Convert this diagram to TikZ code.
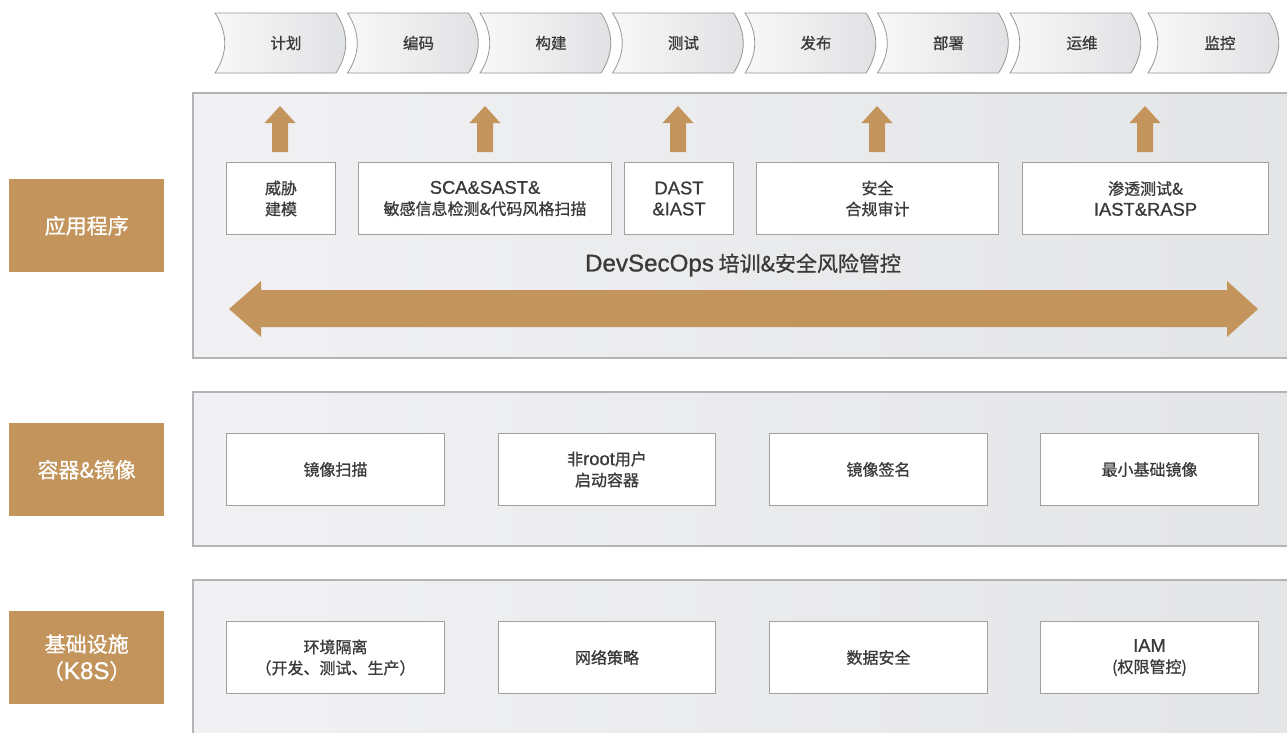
\documentclass[tikz,border=0pt]{standalone}
\usepackage{fontspec}
\setmainfont{Noto Sans CJK SC}[FakeBold=0.9]
\newfontfamily\lat[Scale=1.15,FakeBold=0.9]{Liberation Sans}
\definecolor{gold}{RGB}{195,149,92}
\definecolor{txt}{RGB}{58,58,58}
\definecolor{pborder}{RGB}{180,180,182}
\definecolor{bborder}{RGB}{160,160,162}
\definecolor{pleft}{RGB}{241,241,243}
\definecolor{pright}{RGB}{228,229,231}
\definecolor{cleft}{RGB}{248,248,248}
\definecolor{cright}{RGB}{224,225,227}
\definecolor{cborder}{RGB}{150,150,152}
\tikzset{
  panel/.style={draw=pborder, line width=1.2pt, left color=pleft, right color=pright},
  chevshape/.style={draw=cborder, line width=0.8pt, left color=cleft, right color=cright},
  chevtext/.style={text=txt, font=\fontsize{15.5}{18}\selectfont, inner sep=0pt},
  box/.style={draw=bborder, line width=1pt, fill=white, text=txt, inner sep=0pt, anchor=north west, align=center, minimum height=72, font=\fontsize{16}{21}\selectfont},
  sidelabel/.style={fill=gold, text=white, inner sep=0pt, anchor=north west, align=center, minimum width=155, minimum height=93, font=\fontsize{21}{27}\selectfont},
  uparrow/.style={fill=gold},
}
\newcommand\mychev[4]{%
  \draw[chevshape] (#1,13) -- ++(121,0) .. controls +(13,20) and +(13,-20) .. ++(0,60) -- ++(-121,0) .. controls +(13,-20) and +(13,20) .. ++(0,-60) -- cycle;
  \node[chevtext] (#3) at (#1+#4,43) {#2};
}
\begin{document}
\begin{tikzpicture}[x=1pt,y=-1pt]
\useasboundingbox (0,0) rectangle (1287,732);
\clip (0,0) rectangle (1287,732);
\fill[white] (0,0) rectangle (1287,732);

% chevrons
\mychev{215}{计划}{s1}{71}
\mychev{347.5}{编码}{s2}{71}
\mychev{480}{构建}{s3}{71}
\mychev{612.5}{测试}{s4}{71}
\mychev{745}{发布}{s5}{71}
\mychev{877.5}{部署}{s6}{71}
\mychev{1010}{运维}{s7}{72}
\mychev{1148}{监控}{s8}{72}

% panels
\draw[panel] (193,93) rectangle (1300,358);
\draw[panel] (193,392) rectangle (1300,546);
\draw[panel] (193,580) rectangle (1300,745);

% side labels
\node[sidelabel] (l1) at (9,179) {应用程序};
\node[sidelabel] (l2) at (9,423) {容器\&镜像};
\node[sidelabel] (l3) at (9,611) {基础设施\\（{\lat K8S}）};

% up arrows
\foreach \x in {280,485,678,877,1145}
  \fill[uparrow] (\x,106) -- (\x+15.5,123) -- (\x+8,123) -- (\x+8,152) -- (\x-8,152) -- (\x-8,123) -- (\x-15.5,123) -- cycle;

% row 1 boxes
\node[box, minimum width=109] (a1) at (226,162) {威胁\\建模};
\node[box, minimum width=253] (a2) at (358,162) {{\lat SCA\&SAST\&}\\敏感信息检测\&代码风格扫描};
\node[box, minimum width=109] (a3) at (624,162) {{\lat DAST}\\{\lat \&IAST}};
\node[box, minimum width=242] (a4) at (756,162) {安全\\合规审计};
\node[box, minimum width=246] (a5) at (1022,162) {渗透测试\&\\{\lat IAST\&RASP}};

% title
\node[text=txt, font=\fontsize{21}{24}\selectfont, inner sep=0pt] (t) at (743,265) {{\lat DevSecOps} 培训\&安全风险管控};

% double arrow
\fill[gold] (229,309) -- (261,281) -- (261,290) -- (1227,290) -- (1227,281) -- (1258,309) -- (1227,337) -- (1227,327) -- (261,327) -- (261,337) -- cycle;

% row 2 boxes
\node[box, minimum width=218] (c1) at (226,433) {镜像扫描};
\node[box, minimum width=217] (c2) at (498,433) {非{\lat root}用户\\启动容器};
\node[box, minimum width=218] (c3) at (769,433) {镜像签名};
\node[box, minimum width=218] (c4) at (1040,433) {最小基础镜像};

% row 3 boxes
\node[box, minimum width=218] (d1) at (226,621) {环境隔离\\（开发、测试、生产）};
\node[box, minimum width=217] (d2) at (498,621) {网络策略};
\node[box, minimum width=218] (d3) at (769,621) {数据安全};
\node[box, minimum width=218] (d4) at (1040,621) {{\lat IAM}\\(权限管控)};
\end{tikzpicture}
\end{document}
